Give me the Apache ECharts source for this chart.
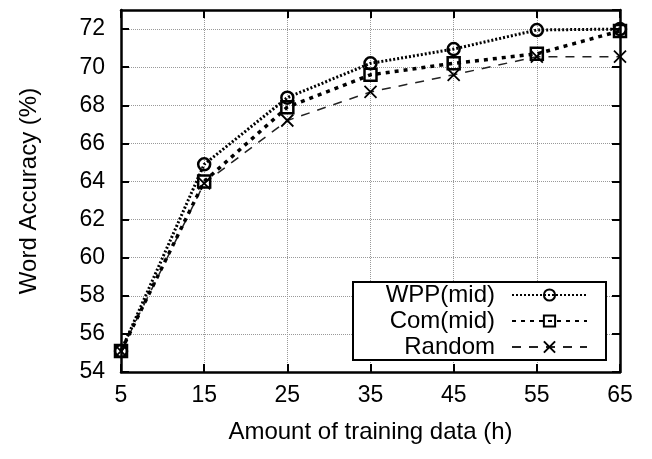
<!DOCTYPE html>
<html lang="en">
<head>
    <meta charset="UTF-8">
    <title>Word Accuracy</title>
    <style>
        html, body { margin: 0; padding: 0; background: #fff; }
        #chart { width: 652px; height: 459px; }
    </style>
</head>
<body>
<div id="chart"></div>
<script src="https://cdn.jsdelivr.net/npm/echarts@6/dist/echarts.min.js"></script>
<script>
    // 数据
    var hours = ['5', '15', '25', '35', '45', '55', '65'];
    var wppMid = [55.1, 64.9, 68.4, 70.2, 70.95, 71.95, 72.0];
    var comMid = [55.1, 64.0, 67.9, 69.6, 70.2, 70.7, 71.9];
    var random = [55.1, 63.9, 67.2, 68.7, 69.6, 70.55, 70.55];

    var font = 'Liberation Sans, Arial, Helvetica, sans-serif';
    var black = '#000';

    var chart = echarts.init(document.getElementById('chart'));

    function xAxisBase(pos) {
        return {
            type: 'category',
            data: hours,
            position: pos,
            boundaryGap: false,
            axisLine: {show: true, onZero: false, lineStyle: {color: black, width: 2.5}},
            axisTick: {show: true, inside: true, length: 8, alignWithLabel: true, lineStyle: {color: black, width: 2}},
            axisLabel: {show: pos === 'bottom', color: black, fontSize: 23, fontFamily: font, margin: 12},
            splitLine: {show: pos === 'bottom', lineStyle: {color: '#999', type: 'dotted', width: 1}}
        };
    }

    function yAxisBase(pos) {
        return {
            type: 'value',
            position: pos,
            min: 54,
            max: 73,
            interval: 2,
            axisLine: {show: true, lineStyle: {color: black, width: 2.5}},
            axisTick: {show: true, inside: true, length: 8, lineStyle: {color: black, width: 2}},
            axisLabel: {show: pos === 'left', color: black, fontSize: 23, fontFamily: font, margin: 16, showMaxLabel: false},
            splitLine: {show: pos === 'left', lineStyle: {color: '#999', type: 'dotted', width: 1}}
        };
    }

    var xBottom = xAxisBase('bottom');
    xBottom.name = 'Amount of training data (h)';
    xBottom.nameLocation = 'middle';
    xBottom.nameGap = 48;
    xBottom.nameTextStyle = {color: black, fontSize: 24, fontFamily: font};

    var yLeft = yAxisBase('left');
    yLeft.name = 'Word Accuracy (%)';
    yLeft.nameLocation = 'middle';
    yLeft.nameGap = 80;
    yLeft.nameTextStyle = {color: black, fontSize: 24, fontFamily: font};

    var option = {
        animation: false,
        backgroundColor: '#fff',
        grid: {left: 121, right: 32, top: 10, bottom: 87},
        legend: {
            orient: 'vertical',
            left: 353,
            top: 282,
            padding: [0, 18, 0, 2],
            itemGap: 0,
            itemWidth: 75,
            itemHeight: 14,
            align: 'right',
            selectedMode: false,
            backgroundColor: '#fff',
            borderColor: black,
            borderWidth: 2,
            textStyle: {color: black, fontSize: 24, fontFamily: font, width: 140, align: 'right', lineHeight: 26, padding: [0, 12, 0, 0]},
            data: ['WPP(mid)', 'Com(mid)', 'Random']
        },
        xAxis: [xBottom, xAxisBase('top')],
        yAxis: [yLeft, yAxisBase('right')],
        series: [
            {
                name: 'WPP(mid)',
                type: 'line',
                data: wppMid,
                symbol: 'circle',
                symbolSize: 12,
                lineStyle: {color: black, width: 3, type: [2, 2]},
                itemStyle: {color: 'rgba(0,0,0,0)', borderColor: black, borderWidth: 2.5},
                z: 4
            },
            {
                name: 'Com(mid)',
                type: 'line',
                data: comMid,
                symbol: 'rect',
                symbolSize: 12,
                lineStyle: {color: black, width: 3.5, type: [4, 5]},
                itemStyle: {color: 'rgba(0,0,0,0)', borderColor: black, borderWidth: 2.5},
                z: 3
            },
            {
                name: 'Random',
                type: 'line',
                data: random,
                symbol: 'path://M0,0L10,10M10,0L0,10',
                symbolSize: 12,
                lineStyle: {color: '#222', width: 1.5, type: [9, 8]},
                itemStyle: {color: 'rgba(0,0,0,0)', borderColor: black, borderWidth: 1.8},
                z: 2
            }
        ]
    };
    chart.setOption(option);
</script>
</body>
</html>
